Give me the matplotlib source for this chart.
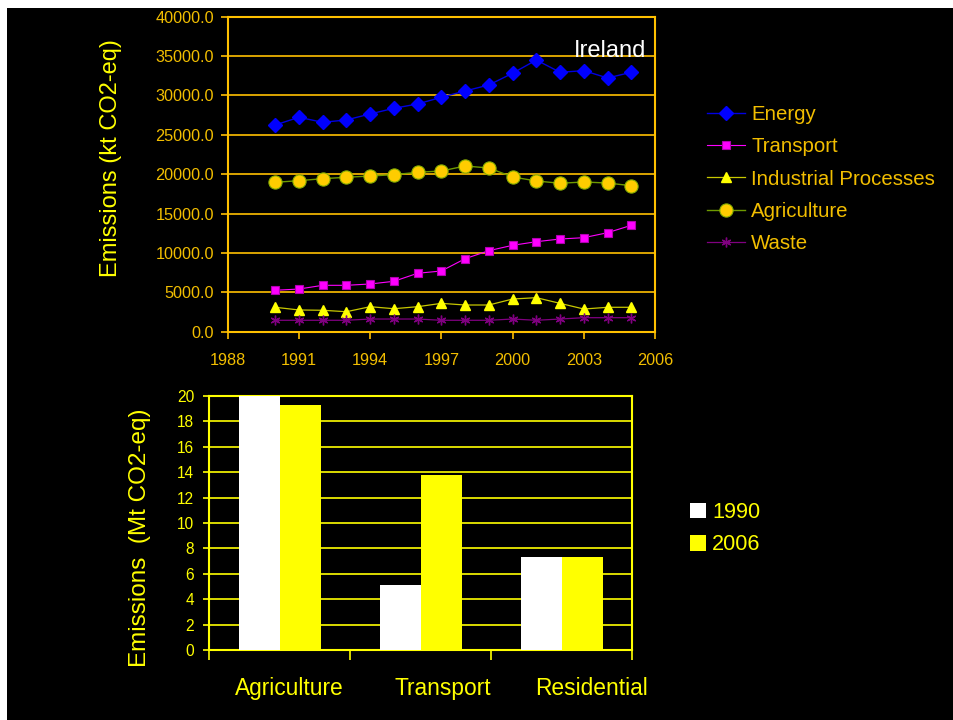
import numpy as np
import matplotlib
matplotlib.use('Agg')
import matplotlib.pyplot as plt
from matplotlib.patches import Rectangle
from matplotlib.transforms import ScaledTranslation

plt.rcParams['font.family'] = ['Liberation Sans', 'DejaVu Sans']

# top chart: Ireland emissions by sector (kt CO2-eq)
years = list(range(1990, 2006))
energy = [26250, 27230, 26590, 26890, 27650, 28370, 28920, 29770,
          30570, 31330, 32820, 34500, 32940, 33150, 32220, 32940]
transport = [5260, 5420, 5890, 5890, 6060, 6400, 7420, 7710,
             9270, 10290, 10970, 11430, 11770, 11940, 12570, 13510]
industrial = [3100, 2760, 2720, 2540, 3175, 2920, 3175, 3600,
              3390, 3390, 4150, 4320, 3600, 2880, 3100, 3100]
agriculture = [18970, 19180, 19430, 19610, 19770, 19940, 20240, 20410,
               21040, 20790, 19650, 19140, 18850, 19010, 18880, 18540]
waste = [1450, 1450, 1450, 1450, 1610, 1610, 1610, 1450,
         1450, 1450, 1610, 1450, 1610, 1780, 1780, 1780]

# bottom chart: Mt CO2-eq by sector
sectors = ['Agriculture', 'Transport', 'Residential']
val_1990 = [20.0, 5.13, 7.33]
val_2006 = [19.27, 13.77, 7.33]

GOLD = '#FFC000'
GOLD_TXT = '#F2BE00'
YEL = '#FFFF00'

fig = plt.figure(figsize=(9.54, 7.2), dpi=100, facecolor='white')
fig.patches.append(Rectangle((7 / 954, 0), 1, 1 - 8 / 720, transform=fig.transFigure,
                             facecolor='black', edgecolor='none', zorder=-1))

# ---------- top line chart ----------
ax1 = fig.add_axes([0.2387, 0.5393, 0.4479, 0.4375], facecolor='black')
ax1.plot(years, energy, color='#0000E0', lw=1.0, marker='D', ms=7.5,
         mfc='#0000FF', mec='#0000FF', label='Energy', zorder=3)
ax1.plot(years, transport, color='#FF00FF', lw=0.8, marker='s', ms=5.7,
         mfc='#FF00FF', mec='#B000B0', mew=0.8, label='Transport', zorder=3)
ax1.plot(years, industrial, color='#C8C800', lw=0.9, marker='^', ms=7.2,
         mfc='#FFFF00', mec='#FFFF00', label='Industrial Processes', zorder=3)
ax1.plot(years, agriculture, color='#6E9A00', lw=1.0, marker='o', ms=9.5,
         mfc='#FFCC00', mec='#88B000', mew=0.8, label='Agriculture', zorder=3)
ax1.plot(years, waste, color='#800080', lw=0.9, marker=(6, 2, 0), ms=7,
         mfc='#800080', mec='#800080', mew=1.0, label='Waste', zorder=3)

ax1.set_xlim(1988, 2006)
ax1.set_ylim(0, 40000)
ax1.set_xticks(range(1988, 2007, 3))
ax1.set_yticks(range(0, 40001, 5000))
ax1.set_yticklabels([f'{v:.1f}' for v in range(0, 40001, 5000)])
ax1.grid(axis='y', color=GOLD, lw=1.2)
ax1.set_axisbelow(True)
for sp in ax1.spines.values():
    sp.set_color(GOLD)
    sp.set_linewidth(1.5)
ax1.tick_params(axis='both', colors=GOLD, labelcolor=GOLD_TXT, direction='out',
                length=5, width=1.2, labelsize=11.7)
ax1.tick_params(axis='y', pad=5)
ax1.tick_params(axis='x', pad=10.5)
ax1.set_ylabel('Emissions (kt CO2-eq)', color=YEL, fontsize=17, va='center')
ax1.yaxis.set_label_coords(-0.272, 0.551)
ax1.text(2002.58, 34900, 'Ireland', color='white', fontsize=17, va='baseline')

fig.legend(*ax1.get_legend_handles_labels(), loc='upper left',
           bbox_to_anchor=(707 / 954, 1 - 105 / 720), frameon=False,
           fontsize=14.7, labelcolor=GOLD_TXT, handlelength=1.86,
           handletextpad=0.3, labelspacing=0.65, borderpad=0, borderaxespad=0)

# ---------- bottom bar chart ----------
ax2 = fig.add_axes([0.2194, 0.0968, 0.4434, 0.3536], facecolor='black')
x = np.arange(len(sectors))
w = 0.29
ax2.bar(x - w / 2, val_1990, w, color='white', label='1990', zorder=3)
ax2.bar(x + w / 2, val_2006, w, color=YEL, label='2006', zorder=3)
ax2.set_xlim(-0.5, 2.5)
ax2.set_ylim(0, 20)
ax2.set_yticks(range(0, 21, 2))
ax2.grid(axis='y', color=YEL, lw=1.2)
ax2.set_axisbelow(True)
for sp in ax2.spines.values():
    sp.set_color(YEL)
    sp.set_linewidth(1.5)
ax2.set_xticks(x)
ax2.set_xticklabels(sectors)
ax2.set_xticks([-0.5, 0.5, 1.5, 2.5], minor=True)
ax2.tick_params(axis='x', which='major', length=0, pad=19, labelsize=16.4, labelcolor=YEL)
ax2.tick_params(axis='x', which='minor', length=7, width=1.2, colors=YEL, direction='out')
ax2.tick_params(axis='y', length=4, width=1.2, colors=YEL, direction='out', pad=7,
                labelsize=11.2)
for lab, dx in zip(ax2.get_xticklabels(), [10, 22, 30]):
    lab.set_transform(lab.get_transform() + ScaledTranslation(dx / 100, 0, fig.dpi_scale_trans))
ax2.set_ylabel('Emissions  (Mt CO2-eq)', color=YEL, fontsize=17.5, va='center')
ax2.yaxis.set_label_coords(-0.165, 0.443)

fig.legend(*ax2.get_legend_handles_labels(), loc='upper left',
           bbox_to_anchor=(690 / 954, 1 - 502 / 720), frameon=False,
           fontsize=15.6, labelcolor=YEL, handlelength=0.74, handleheight=0.74,
           handletextpad=0.28, labelspacing=0.53, borderpad=0, borderaxespad=0)

fig.savefig('out.png', dpi=100, facecolor=fig.get_facecolor())
